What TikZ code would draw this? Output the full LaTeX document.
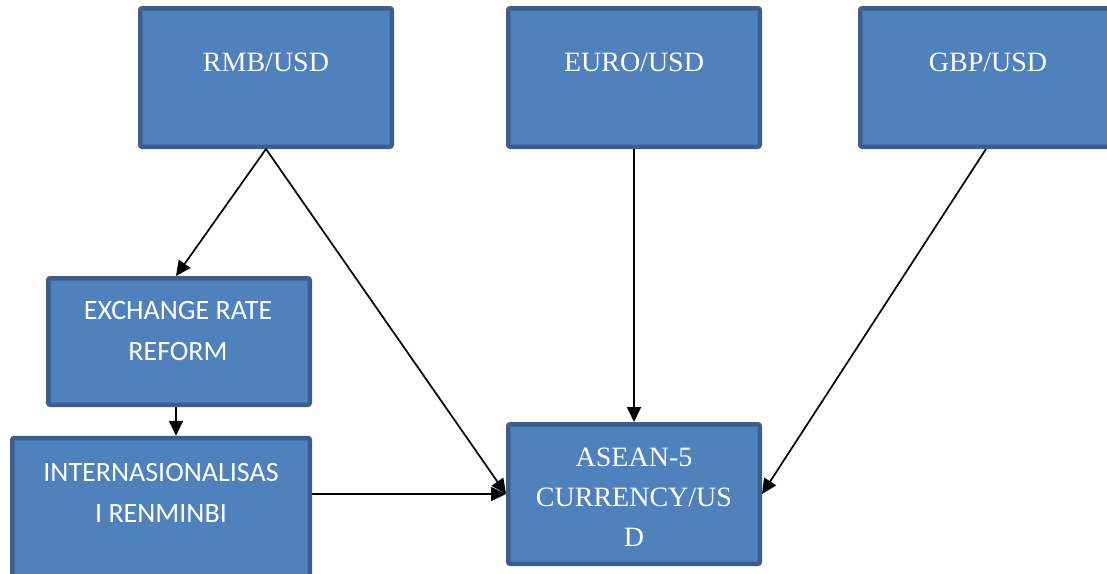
\documentclass[tikz,border=0pt]{standalone}
\usepackage{fontspec}
\setmainfont{Liberation Serif}
\newfontfamily\boxsans{Carlito}
\usetikzlibrary{arrows.meta}
\definecolor{boxfill}{HTML}{4F81BD}
\definecolor{boxline}{HTML}{3A5F8E}
\begin{document}
\begin{tikzpicture}[x=1pt,y=-1pt,
  box/.style={draw=boxline,fill=boxfill,line width=4.5pt,rounded corners=2pt,
    minimum width=#1,inner sep=0pt},
  seriftext/.style={text=white,anchor=north,inner sep=0pt,align=center,
    font=\fontsize{28}{40}\selectfont},
  sanstext/.style={text=white,anchor=north,inner sep=0pt,align=center,
    font=\boxsans\fontsize{28}{41}\selectfont},
  link/.style={draw=black,line width=1.7pt,-{Triangle[length=15pt,width=14pt]}}]
  \useasboundingbox (0,0) rectangle (1107,573);

  % exchange-rate boxes along the top
  \node[box=251.5pt,minimum height=138.5pt] (rmb) at (266,77.5) {};
  \node[box=251.5pt,minimum height=138.5pt] (euro) at (634,77.5) {};
  \node[box=251.5pt,minimum height=138.5pt] (gbp) at (986,77.5) {};
  % left-hand chain
  \node[box=261.5pt,minimum height=126.5pt] (exch) at (179,341.5) {};
  \node[box=297.5pt,minimum height=160pt] (intern) at (161,518) {};
  % target box
  \node[box=251.5pt,minimum height=139.5pt] (asean) at (634,494) {};

  % labels
  \node[seriftext] at (266,53) {RMB/USD};
  \node[seriftext] at (634,53) {EURO/USD};
  \node[seriftext] at (988,53) {GBP/USD};
  \node[sanstext] at (178,301) {EXCHANGE RATE\\REFORM};
  \node[sanstext] at (161,463) {INTERNASIONALISAS\\I RENMINBI};
  \node[seriftext] at (634,448) {ASEAN-5\\CURRENCY/US\\D};

  % connectors
  \draw[link] (rmb.south) -- (exch.north -| 176,0);
  \draw[link] (rmb.south) -- (asean.west);
  \draw[link] (exch.south -| 176,0) -- (intern.north -| 176,0);
  \draw[link] (intern.east |- asean.west) -- (asean.west);
  \draw[link] (euro.south) -- (asean.north);
  \draw[link] (gbp.south) -- (asean.east);
\end{tikzpicture}
\end{document}
